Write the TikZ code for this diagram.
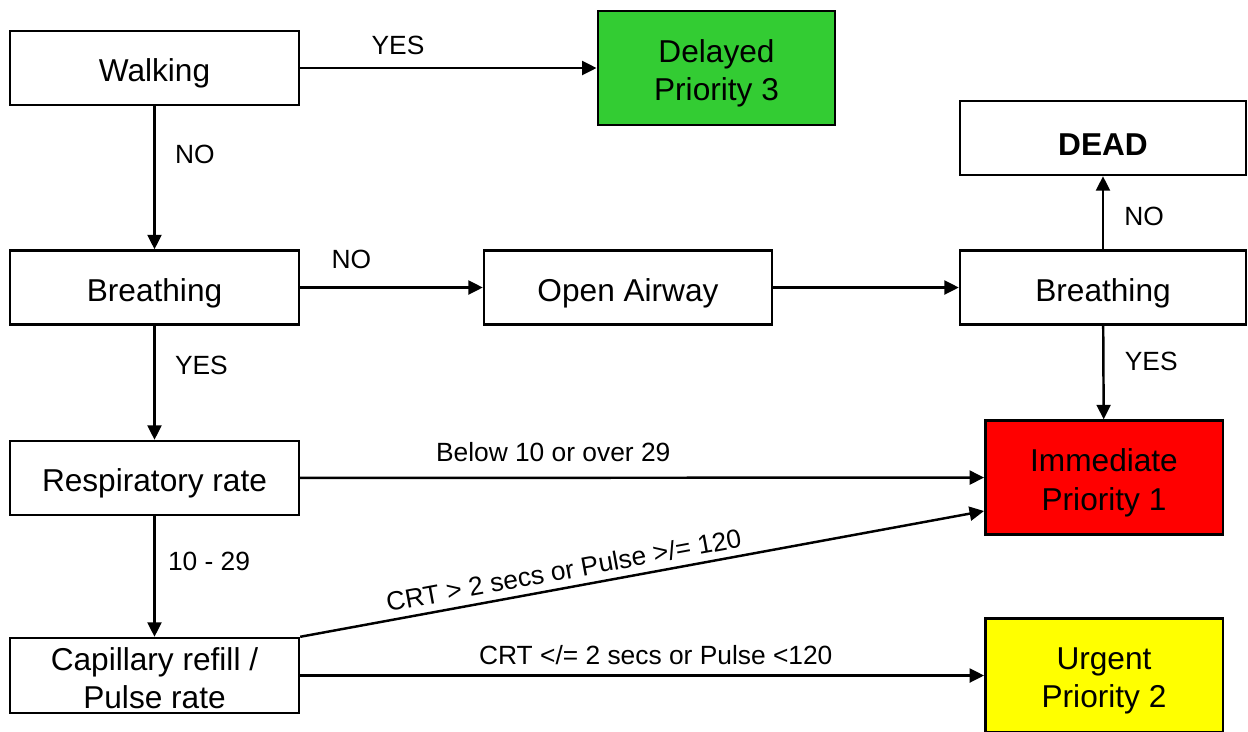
\documentclass[tikz,border=0pt]{standalone}
\usepackage{fontspec}
\setmainfont{Liberation Sans}
\usetikzlibrary{arrows.meta,calc}
\definecolor{delayedgreen}{HTML}{33CC33}
\definecolor{immred}{HTML}{FF0000}
\definecolor{urgyellow}{HTML}{FFFF00}
\begin{document}
\begin{tikzpicture}[x=0.02cm,y=-0.02cm,
  boxtext/.style={inner sep=0pt,align=center,font=\fontsize{18}{22}\selectfont},
  box/.style={draw=black,line width=1.4pt,fill=white,inner sep=0pt,align=center,
    minimum height=1.48cm,font=\fontsize{18}{22}\selectfont,
    execute at begin node={\rule{0pt}{19.6pt}}},
  prio/.style={draw=black,line width=1.4pt,inner sep=0pt,minimum height=2.28cm,minimum width=4.75cm},
  flow/.style={line width=1.4pt,-{Triangle[length=0.29cm,width=0.28cm]}},
  lbl/.style={font=\fontsize{15}{18}\selectfont,inner sep=0pt}]
\useasboundingbox (0,0) rectangle (1248,731);
\begin{scope}
\clip (0,0) rectangle (1248,731);
% left column
\node[box,minimum width=5.78cm] (walk) at (154.5,68) {Walking};
\node[box,minimum width=5.78cm] (breathL) at (154.5,287.5) {Breathing};
\node[box,minimum width=5.78cm] (resp) at (154.5,478) {Respiratory rate};
\node[prio,fill=white,minimum width=5.78cm,minimum height=1.5cm] (cap) at (154.5,675.5) {};
\node[boxtext] (captxt) at ([yshift=-1.5pt]cap.center) {Capillary refill /\\Pulse rate};
% middle and right
\node[box,minimum width=5.76cm] (airway) at (628,287.5) {Open Airway};
\node[box,minimum width=5.72cm] (breathR) at (1103,287.5) {Breathing};
\node[box,minimum width=5.72cm] (dead) at (1103,138) {\textbf{DEAD}};
% priority boxes
\node[prio,fill=delayedgreen] (delayed) at (716.5,68) {};
\node[boxtext] (delayedtxt) at ([yshift=-3.1pt]delayed.center) {Delayed\\Priority 3};
\node[prio,fill=immred] (imm) at (1104,477.5) {};
\node[boxtext] (immtxt) at ([yshift=-3.1pt]imm.center) {Immediate\\Priority 1};
\node[prio,fill=urgyellow] (urg) at (1104,675.5) {};
\node[boxtext] (urgtxt) at ([yshift=-3.1pt]urg.center) {Urgent\\Priority 2};
\coordinate (immlow) at ($(imm.west)+(0,33.5)$);
% connectors
\draw[flow] (walk) -- (delayed) node[lbl,pos=0.33,above=7pt] {YES};
\draw[flow] (walk) -- (breathL) node[lbl,midway,right=11pt,yshift=13pt] {NO};
\draw[flow] (breathL) -- (airway) node[lbl,pos=0.28,above=10pt] {NO};
\draw[flow] (airway) -- (breathR);
\draw[flow] (breathR) -- (dead) node[lbl,midway,right=11.5pt,yshift=-2pt] {NO};
\draw[flow] (breathR) -- (imm) node[lbl,midway,right=11.5pt,yshift=6.2pt] {YES};
\draw[flow] (breathL) -- (resp) node[lbl,midway,right=11pt,yshift=10pt] {YES};
\draw[flow] (resp) -- (imm) node[lbl,pos=0.37,above=8.5pt] {Below 10 or over 29};
\draw[flow] (resp) -- (cap) node[lbl,midway,right=7pt,yshift=8.8pt] {10 - 29};
\draw[flow] (cap.north east) -- (immlow) node[lbl,pos=0.39,sloped,above=4pt] {CRT > 2 secs or Pulse >/= 120};
\draw[flow] (cap) -- (urg) node[lbl,pos=0.52,above=5.5pt] {CRT </= 2 secs or Pulse <120};
\end{scope}
\end{tikzpicture}
\end{document}
